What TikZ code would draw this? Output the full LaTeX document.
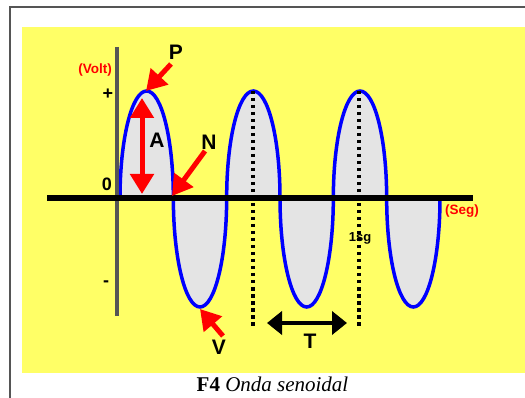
\documentclass[tikz,border=0pt]{standalone}
\usepackage{fontspec}
\setmainfont{Liberation Sans}
\newfontfamily\capfont{Liberation Serif}
\usetikzlibrary{arrows.meta}
\definecolor{paper}{HTML}{FFFF66}
\definecolor{lobegray}{HTML}{E4E4E4}
\definecolor{axisgray}{HTML}{555555}
\definecolor{waveblue}{HTML}{0000FF}
\definecolor{arrowred}{HTML}{FF0000}

\tikzset{
  lbl/.style={font=\fontsize{21}{21}\selectfont\bfseries, inner sep=0pt},
  signlbl/.style={font=\fontsize{18}{18}\selectfont\bfseries, inner sep=0pt},
  unitlbl/.style={font=\fontsize{13.5}{13.5}\selectfont\bfseries, text=arrowred, inner sep=0pt},
  redarrow/.style={arrowred, line width=5pt, -{Triangle[length=20pt,width=23pt]}},
  redboth/.style={arrowred, line width=5pt, {Triangle[length=20pt,width=23pt]}-{Triangle[length=20pt,width=23pt]}},
  periodarrow/.style={black, line width=4pt, {Triangle[length=15pt,width=23pt]}-{Triangle[length=15pt,width=23pt]}},
  wave/.style={waveblue, line width=3.5pt},
  dotline/.style={black, line width=3.5pt, dash pattern=on 3.5pt off 3.5pt}
}

\begin{document}
\begin{tikzpicture}[x=1pt,y=-1pt]
  \useasboundingbox (0,0) rectangle (525,398);
  % frame and background
  \draw[axisgray, line width=2pt] (10,398) -- (10,7) -- (525,7);
  \fill[paper] (22,27) rectangle (525,373);

  % lobes of the wave
  \foreach \k in {0,...,5} {
    \pgfmathsetmacro\xs{120+53.333*\k}
    \pgfmathsetmacro\ea{ifthenelse(mod(\k,2)==0,360,0)}
    \fill[lobegray] (\xs,198) arc[start angle=180, end angle=\ea, x radius=26.667, y radius=107] -- cycle;
  }
  \coordinate (w0) at (120,198);
  \draw[wave] (w0)
    arc[start angle=180, end angle=360, x radius=26.667, y radius=107]
    arc[start angle=180, end angle=0, x radius=26.667, y radius=109]
    arc[start angle=180, end angle=360, x radius=26.667, y radius=107]
    arc[start angle=180, end angle=0, x radius=26.667, y radius=109]
    arc[start angle=180, end angle=360, x radius=26.667, y radius=107]
    arc[start angle=180, end angle=0, x radius=26.667, y radius=109];

  % axes
  \coordinate (yt) at (117,47);
  \coordinate (yb) at (117,316);
  \coordinate (xl) at (47,198);
  \coordinate (xr) at (473,198);
  \draw[axisgray, line width=4pt] (yt) -- (yb);
  \draw[black, line width=6pt] (xl) -- (xr);

  % axis labels
  \node[unitlbl] (volt) at (95,70) {(Volt)};
  \node[unitlbl] (seg) at (462,211) {(Seg)};
  \node[signlbl] (plus) at (108,94) {+};
  \node[signlbl] (zero) at (107,184) {0};
  \node[signlbl] (minus) at (106,284) {-};
  \node[font=\fontsize{13}{13}\selectfont\bfseries, inner sep=0pt] (sec) at (360,238) {1sg};

  % period marks
  \coordinate (pk2) at (253,91);
  \coordinate (pk2b) at (253,326);
  \coordinate (pk3) at (359,91);
  \coordinate (pk3b) at (359,326);
  \draw[dotline] (pk2) -- (pk2b);
  \draw[dotline] (pk3) -- (pk3b);
  \coordinate (tl) at (267,323);
  \coordinate (tr) at (347,323);
  \draw[periodarrow] (tl) -- (tr);
  \node[lbl] (T) at (310,341) {T};

  % peak, node, valley, amplitude
  \coordinate (peak) at (146,91);
  \coordinate (ptail) at (171,64);
  \coordinate (zeroN) at (172,196);
  \coordinate (ntail) at (205,151);
  \coordinate (valley) at (200,309);
  \coordinate (vtail) at (223,336);
  \coordinate (atop) at (142,98);
  \coordinate (abot) at (142,194);
  \draw[redarrow] (ptail) -- (peak);
  \draw[redarrow] (ntail) -- (zeroN);
  \draw[redarrow] (vtail) -- (valley);
  \draw[redboth] (atop) -- (abot);
  \node[lbl] (P) at (176,52) {P};
  \node[lbl] (N) at (209,142) {N};
  \node[lbl] (V) at (219,347) {V};
  \node[lbl] (A) at (157,140) {A};

  % caption
  \node[font=\capfont\fontsize{21}{21}\selectfont, inner sep=0pt, anchor=base] (cap) at (272.5,391) {\textbf{F4} \textit{Onda senoidal}};
\end{tikzpicture}
\end{document}
